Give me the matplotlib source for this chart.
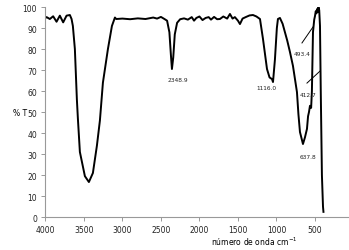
import matplotlib
matplotlib.use("Agg")
import matplotlib.pyplot as plt

# espectro IR (número de onda, % T)
wavenumber = [
    4000, 3984, 3942, 3899, 3855, 3812, 3769, 3725, 3682, 3660,
    3643, 3617, 3591, 3578, 3552, 3487, 3435, 3383, 3331, 3292,
    3253, 3188, 3136, 3097, 3080, 3000, 2900, 2800, 2700, 2600,
    2550, 2500, 2450, 2420, 2390, 2370, 2357, 2340, 2320, 2290,
    2250, 2200, 2150, 2100, 2070, 2040, 2000, 1960, 1920, 1880,
    1850, 1810, 1770, 1734, 1690, 1640, 1604, 1570, 1540, 1500,
    1474, 1440, 1400, 1350, 1305, 1260, 1214, 1175, 1123, 1090,
    1058, 1045, 1020, 995, 981, 955, 920, 890, 860, 825,
    786, 734, 715, 695, 656, 630, 604, 590, 578, 565,
    550, 540, 526, 510, 500, 490, 480, 474, 465, 455,
    445, 435, 425, 410, 396, 390,
]
transmittance = [
    94.8, 95.2, 94.3, 95.6, 93.0, 95.9, 92.7, 95.9, 96.2, 94.3,
    91.0, 80.0, 56.0, 47.0, 31.0, 19.5, 16.7, 21.0, 34.0, 46.0,
    64.0, 80.0, 91.0, 95.0, 94.3, 94.5, 94.2, 94.6, 94.3, 95.0,
    94.5, 95.3, 94.2, 93.5, 88.0, 77.0, 70.5, 76.0, 87.0, 92.5,
    94.2, 94.6, 94.0, 95.2, 93.5, 94.8, 95.5, 93.8, 94.8, 95.2,
    94.0, 95.3, 94.2, 94.3, 95.5, 94.5, 96.7, 94.5, 95.2, 93.5,
    91.9, 94.5, 95.2, 96.0, 96.2, 95.5, 94.3, 84.8, 70.5, 66.5,
    65.7, 64.3, 75.0, 90.0, 94.3, 94.8, 92.0, 88.0, 84.0, 78.6,
    72.0, 59.5, 49.0, 40.5, 34.8, 38.0, 42.0, 48.0, 50.0, 53.0,
    52.0, 60.0, 88.0, 94.0, 95.7, 98.0, 97.0, 99.0, 97.6, 100.0,
    98.5, 91.0, 60.0, 20.0, 5.0, 2.5,
]

peak_labels = ["2348.9", "1116.0", "493.4", "412.7", "637.8"]
label_pos = [(2279, 65.7), (1136, 61.9), (669, 78.0), (591, 58.6), (591, 29.0)]
# líneas guía solo para 493.4 y 412.7
leader_lines = [((669, 82.9), (526, 90.5)), ((604, 63.8), (435, 69.5))]

fig = plt.figure(figsize=(3.49, 2.51), dpi=100)
ax = fig.add_axes([0.130, 0.131, 0.867, 0.837])

ax.plot(wavenumber, transmittance, color="black", linewidth=1.4)

for txt, (x, y) in zip(peak_labels, label_pos):
    ax.text(x, y, txt, fontsize=4.2, ha="center", va="center", color="#222222")
for (x0, y0), (x1, y1) in leader_lines:
    ax.plot([x0, x1], [y0, y1], color="black", linewidth=0.7)

ax.set_xlim(4000, 72)
ax.set_ylim(0, 100)
ax.set_xticks([4000, 3500, 3000, 2500, 2000, 1500, 1000, 500])
ax.set_yticks(range(0, 101, 10))

for side in ["top", "right"]:
    ax.spines[side].set_visible(False)
for side in ["left", "bottom"]:
    ax.spines[side].set_color("#999999")
    ax.spines[side].set_linewidth(0.8)

ax.tick_params(axis="both", labelsize=5.5, length=3, width=0.7,
               color="#999999", pad=3, labelcolor="#222222")

ax.set_ylabel("% T", fontsize=5.5, rotation=0, va="center")
ax.yaxis.set_label_coords(-0.085, 0.5)
ax.set_xlabel("número de onda cm$^{-1}$", fontsize=5.5, va="center")
ax.xaxis.set_label_coords(0.69, -0.115)

fig.savefig("out.png", dpi=100)
